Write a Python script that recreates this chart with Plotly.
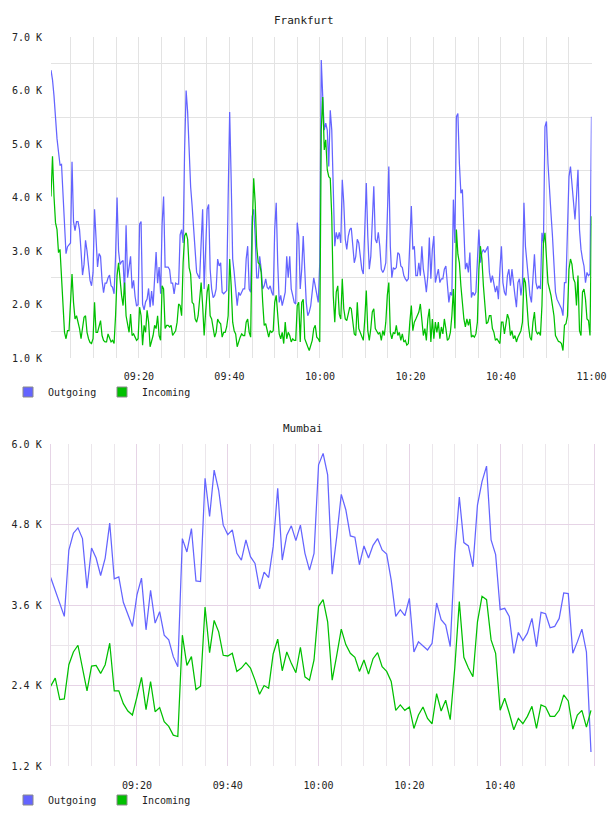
import pandas as pd
import plotly.graph_objects as go

DAY = "2024-01-01 "

# ---------------- data (values in thousands) ----------------
fra_out = [
    6.38, 6.2, 5.9, 5.4, 5.1, 4.85, 4.61, 4.62, 4.0, 3.3,
    2.95, 3.08, 3.12, 3.15, 4.67, 3.55, 3.38, 3.55, 3.55, 3.4,
    3.0, 2.55, 2.75, 3.2, 3.0, 2.7, 2.45, 2.35, 2.6, 3.78,
    3.1, 2.7, 2.95, 2.9, 2.45, 2.22, 2.4, 2.4, 2.5, 2.55,
    2.35, 2.32, 2.2, 2.9, 4.0, 3.0, 2.75, 2.8, 2.82, 2.2,
    3.48, 2.5, 2.7, 2.9, 2.3, 2.45, 2.15, 1.97, 2.0, 3.5,
    3.55, 2.0, 1.9, 2.05, 2.1, 2.3, 1.95, 2.25, 1.98, 2.4,
    2.98, 2.4, 2.7, 2.2, 3.5, 4.02, 2.7, 2.7, 2.7, 2.65,
    2.4, 2.4, 2.2, 2.4, 2.38, 2.38, 3.3, 3.4, 3.15, 4.9,
    6.0,
    5.6, 4.77, 4.2, 3.84, 3.35, 2.9, 2.6, 2.54, 2.48, 3.15,
    3.78, 2.29, 3.09, 3.78, 3.87, 2.66, 2.29, 2.13, 2.17, 2.29,
    2.85, 2.72, 2.78, 2.23, 2.2, 2.23, 2.26, 4.0, 5.6, 4.33,
    2.85, 2.6, 2.29, 1.98, 2.23, 2.17, 2.23, 2.29, 2.29, 2.85,
    3.09, 2.29, 2.23, 3.65, 3.78, 3.28, 2.5, 2.5, 2.9, 2.66,
    2.29, 2.35, 2.48, 2.32, 2.29, 2.35, 2.23, 2.17, 3.4, 3.9,
    2.78, 2.04, 2.17, 1.98, 2.1, 2.23, 2.9, 2.5, 2.9, 2.29,
    2.17, 2.04, 2.01, 3.53, 3.28, 2.29, 2.66, 3.28, 2.66, 2.04,
    1.79, 1.86, 1.98, 2.23, 2.5, 2.35, 2.17, 2.04, 2.78, 6.57,
    5.88, 5.26,
    5.39, 5.26, 4.58, 5.63, 5.26, 4.15, 3.09, 3.35, 3.22, 3.35,
    3.15, 4.33, 3.9, 3.22, 3.03, 3.28, 3.4, 3.43, 3.09, 2.78,
    2.9, 3.22, 3.15, 2.9, 2.66, 2.57, 3.4, 4.27, 3.28, 2.66,
    2.9, 3.65, 4.21, 3.22, 3.15, 3.35, 3.09, 2.66, 2.6, 2.66,
    2.78, 3.65, 4.58, 3.09, 2.5, 2.69, 2.66, 2.69, 2.97, 2.94,
    2.72, 2.69, 2.54, 2.48, 2.44, 2.48, 3.28, 3.84, 3.03, 3.09,
    2.54, 2.54, 2.78, 2.54, 3.09, 2.66, 2.48, 2.23, 2.54, 3.25,
    2.48, 3.03, 3.28, 2.41, 2.54, 2.66, 2.41, 2.48, 2.48, 2.66,
    2.72, 2.29, 2.04, 2.23, 2.17, 3.96, 3.15, 5.51, 5.57, 4.64,
    4.08, 4.15,
    3.4, 2.66, 2.78, 2.6, 2.97, 2.13, 2.23, 2.17, 2.23, 2.78,
    3.4, 2.78, 2.97, 3.03, 2.97, 3.03, 3.09, 2.6, 2.41, 2.54,
    2.35, 2.23, 2.35, 2.1, 2.66, 3.09, 2.41, 2.23, 2.17, 2.54,
    2.66, 2.35, 2.66, 2.35, 2.17, 1.95, 2.41, 2.48, 2.17, 2.41,
    3.9, 3.09, 2.78, 2.41, 2.17, 2.04, 2.54, 2.94, 2.41, 2.29,
    2.35, 2.29, 3.34, 3.15, 5.32, 5.42, 4.64, 4.02, 3.71, 3.28,
    2.78, 2.23, 2.1, 2.04, 2.01, 1.92, 1.79, 2.41, 2.41, 3.65,
    4.39, 4.58, 4.21, 3.84, 3.59, 4.02, 4.52, 3.4, 3.03, 2.85,
    2.72, 2.41, 2.6, 2.54, 2.57, 5.51,
]

fra_in = [
    4.02, 4.77, 4.02, 3.53, 3.4, 2.97, 3.03, 2.41, 1.79, 1.48,
    1.36, 1.51, 1.51, 1.98, 2.57, 2.04, 1.73, 1.79, 1.67, 1.55,
    1.36, 1.55, 1.76, 1.79, 1.48, 1.36, 1.29, 1.27, 1.36, 2.04,
    1.48, 1.48, 1.58, 1.7, 1.42, 1.33, 1.3, 1.3, 1.45, 1.39,
    1.3, 1.33, 1.27, 1.79, 2.54, 2.78, 2.41, 2.17, 1.98, 2.41,
    1.79, 1.61, 1.48, 1.82, 1.42, 1.45, 1.39, 1.33, 1.36, 1.95,
    1.79, 1.24, 1.61, 1.48, 1.89, 1.67, 1.21, 1.33, 1.42, 1.61,
    1.55, 1.79, 1.42, 1.33, 2.35, 2.29, 1.55, 1.61, 1.61, 1.58,
    1.61, 1.42, 1.48, 1.51, 1.67, 2.01, 1.98, 1.79, 2.78, 3.28,
    3.34,
    3.22, 2.69, 2.57, 2.04, 2.01, 1.73, 1.67, 1.79, 2.17, 2.41,
    1.98, 1.42, 1.86, 2.23, 2.38, 1.79, 1.73, 1.55, 1.39, 1.48,
    1.73, 1.67, 1.64, 1.39, 1.48, 1.48, 1.58, 1.79, 2.85, 2.35,
    1.67, 1.51, 1.45, 1.21, 1.33, 1.39, 1.45, 1.42, 1.42, 1.67,
    1.73, 1.48, 1.39, 3.4, 4.36, 3.9, 3.09, 2.78, 2.75, 2.6,
    2.04, 1.61, 1.64, 1.48, 1.39, 1.51, 1.48, 1.51, 2.04, 2.17,
    1.79, 1.45, 1.36, 1.48, 1.27, 1.67, 1.36, 1.48, 1.42, 1.3,
    1.36, 1.33, 1.33, 1.98, 2.04, 1.3, 2.04, 2.1, 1.36, 1.27,
    1.21, 1.14, 1.24, 1.33, 1.55, 1.61, 1.39, 1.36, 1.3, 5.26,
    5.88, 4.89,
    5.08, 4.52, 4.39, 4.36, 3.65, 2.17, 1.67, 2.23, 2.35, 1.82,
    1.73, 2.48, 1.92, 1.73, 1.7, 1.86, 1.95, 1.92, 1.67, 1.45,
    1.42, 2.04, 1.55, 1.48, 1.39, 1.33, 1.73, 2.26, 1.51, 1.33,
    1.55, 1.86, 1.92, 1.55, 1.5, 1.45, 1.48, 1.33, 1.51, 1.42,
    1.67, 2.17, 2.41, 1.48, 1.36, 1.48, 1.45, 1.61, 1.42, 1.48,
    1.33, 1.45, 1.3, 1.33, 1.24, 1.27, 1.67, 1.98, 1.51, 1.67,
    1.73, 1.79, 1.86, 2.01, 1.73, 1.42, 1.55, 1.33, 1.73, 1.92,
    1.3, 1.73, 1.36, 1.67, 1.48, 1.67, 1.36, 1.58, 1.45, 1.73,
    1.55, 1.33, 1.36, 1.48, 1.79, 2.29, 1.55, 3.4, 2.94, 2.78,
    2.35, 2.04,
    1.73, 1.58, 1.73, 1.61, 1.73, 1.39, 1.42, 1.39, 1.45, 1.67,
    2.66, 3.09, 2.85, 2.35, 1.92, 1.64, 1.67, 1.79, 1.79, 1.55,
    1.48, 1.33, 1.36, 1.3, 1.27, 1.67, 1.67, 1.45, 1.67, 1.82,
    1.73, 1.42, 1.51, 1.36, 1.42, 1.3, 1.39, 1.45, 1.51, 1.67,
    2.5, 2.41, 1.98, 1.61, 1.39, 1.33, 1.67, 1.86, 1.51, 1.45,
    1.48, 1.42, 1.98, 3.15, 3.34, 2.9, 2.41, 2.29, 2.17, 1.98,
    1.79, 1.42, 1.36, 1.31, 1.3, 1.27, 1.14, 1.61, 1.64, 1.79,
    2.66, 2.85, 2.75, 2.48, 2.41, 1.98, 2.54, 1.51, 1.42, 2.23,
    2.29, 2.1, 1.73, 1.7, 1.42, 3.65,
]

mum_out = [
    4.01, 3.82, 3.6, 3.43, 4.42, 4.67, 4.75, 4.59, 3.85, 4.45,
    4.3, 4.04, 4.3, 4.82, 3.99, 4.02, 3.64, 3.45, 3.28, 3.75,
    4.0, 3.23, 3.82, 3.33, 3.5, 3.15, 3.08, 2.83, 2.68, 4.59,
    4.39, 4.74, 3.96, 3.95, 5.49, 4.92, 5.61, 5.31, 4.79, 4.65,
    4.72, 4.37, 4.27, 4.57, 4.32, 4.22, 3.84, 4.09, 4.01, 4.47,
    5.34, 4.27, 4.64, 4.78, 4.56,
    4.79, 4.37, 4.12, 4.37, 5.69, 5.86, 5.54, 4.06, 4.62, 5.25,
    5.02, 4.63, 4.61, 4.2, 4.48, 4.3, 4.49, 4.59, 4.42, 4.36,
    3.97, 3.43, 3.53, 3.44, 3.7, 2.9, 3.05, 2.99, 2.93, 3.03,
    3.63, 3.38, 3.3, 2.98, 4.37, 5.21, 4.53, 4.48, 4.17, 5.09,
    5.44, 5.67, 4.57, 4.35, 3.53, 3.55, 3.43, 2.88, 3.19, 3.07,
    3.18, 3.4, 2.98, 3.49, 3.47, 3.26, 3.28, 3.4, 3.78, 3.77,
    2.88, 3.05, 3.24, 2.9, 1.41,
]

mum_in = [
    2.39, 2.51, 2.19, 2.2, 2.71, 2.9, 3.0, 2.66, 2.32, 2.69,
    2.7, 2.58, 2.71, 3.03, 2.32, 2.32, 2.13, 2.02, 1.96, 2.23,
    2.52, 2.04, 2.46, 2.01, 2.07, 1.86, 1.79, 1.66, 1.64, 3.15,
    2.7, 2.83, 2.34, 2.39, 3.57, 2.89, 3.37, 3.2, 2.85, 2.84,
    2.88, 2.61, 2.66, 2.74, 2.66, 2.48, 2.27, 2.4, 2.36, 2.87,
    3.09, 2.62, 2.9, 2.73, 2.59,
    2.97, 2.53, 2.48, 2.78, 3.58, 3.68, 3.35, 2.48, 2.85, 3.24,
    3.01, 2.88, 2.82, 2.61, 2.78, 2.57, 2.8, 2.89, 2.68, 2.61,
    2.46, 2.03, 2.11, 2.03, 2.08, 1.76, 1.96, 2.08, 1.91, 1.83,
    2.28, 2.02, 2.18, 1.89, 2.66, 3.65, 2.82, 2.66, 2.53, 3.35,
    3.73, 3.68, 3.08, 2.88, 2.03, 2.21, 1.99, 1.74, 1.91, 1.83,
    1.94, 2.09, 1.76, 2.11, 2.08, 1.94, 1.94, 2.03, 2.26, 2.17,
    1.75, 1.96, 2.03, 1.78, 2.03,
]

series_names = ["Outgoing", "Incoming"]
x_tick_labels = ["09:20", "09:40", "10:00", "10:20", "10:40", "11:00"]
fra_y_ticks = [1.0, 2.0, 3.0, 4.0, 5.0, 6.0, 7.0]
mum_y_ticks = [1.2, 2.4, 3.6, 4.8, 6.0]

# ---------------- styling ----------------
W, H = 608, 816
BLUE = "#6464ff"
GREEN = "#00c000"
FONT = "DejaVu Sans Mono"
TXT = "#222222"
FRA_GRID = "#e3e3e3"
MUM_MAJOR = "#e6d4e6"
MUM_MINOR = "#ebe6eb"

fra_time = pd.date_range(DAY + "09:00:35", DAY + "11:00:00", periods=len(fra_out))
mum_time = pd.date_range(DAY + "09:01:00", periods=len(mum_out), freq="1min")

x_tick_vals = [pd.Timestamp(DAY + t) for t in x_tick_labels]
five_min = list(pd.date_range(DAY + "09:05", DAY + "11:00", freq="5min"))
five_min_mum = list(pd.date_range(DAY + "09:05", DAY + "10:55", freq="5min"))


def px_x(a, b):
    return [a / W, b / W]


def px_y(top, bottom):
    return [1 - bottom / H, 1 - top / H]


fig = go.Figure()

line_w = 1.25
fig.add_trace(go.Scatter(x=fra_time, y=fra_out, mode="lines", name=series_names[0],
                         line=dict(color=BLUE, width=line_w), xaxis="x", yaxis="y",
                         showlegend=False, legendgroup="fo"))
fig.add_trace(go.Scatter(x=fra_time, y=fra_in, mode="lines", name=series_names[1],
                         line=dict(color=GREEN, width=line_w), xaxis="x", yaxis="y",
                         showlegend=False, legendgroup="fi"))
fig.add_trace(go.Scatter(x=mum_time, y=mum_out, mode="lines", name=series_names[0],
                         line=dict(color=BLUE, width=line_w), xaxis="x2", yaxis="y2",
                         showlegend=False, legendgroup="mo"))
fig.add_trace(go.Scatter(x=mum_time, y=mum_in, mode="lines", name=series_names[1],
                         line=dict(color=GREEN, width=line_w), xaxis="x2", yaxis="y2",
                         showlegend=False, legendgroup="mi"))

# legend swatches (square)
for leg, grp, xa, ya in [("legend", "f", "x", "y"), ("legend2", "m", "x2", "y2")]:
    for name, col, g in [(series_names[0], BLUE, grp + "o"), (series_names[1], GREEN, grp + "i")]:
        fig.add_trace(go.Scatter(x=[None], y=[None], mode="markers", name=name,
                                 marker=dict(symbol="square", size=10, color=col,
                                             line=dict(color="#8a8a8a", width=1)),
                                 xaxis=xa, yaxis=ya, legend=leg, legendgroup=g,
                                 showlegend=True))

tickfont = dict(family=FONT, size=10, color=TXT)
legfont = dict(family=FONT, size=10, color=TXT)

fig.update_layout(
    width=W, height=H, autosize=False,
    margin=dict(l=0, r=0, t=0, b=0),
    template="none",
    paper_bgcolor="white", plot_bgcolor="white",
    font=dict(family=FONT, size=10, color=TXT),
    xaxis=dict(domain=px_x(51, 591.5), anchor="y", type="date",
               range=[DAY + "09:00:35", DAY + "11:00:00"],
               tickmode="array", tickvals=x_tick_vals, ticktext=x_tick_labels,
               ticks="outside", ticklen=9, tickcolor="rgba(0,0,0,0)",
               showgrid=True, gridcolor=FRA_GRID, gridwidth=1,
               minor=dict(tickmode="array", tickvals=five_min, showgrid=True,
                          gridcolor=FRA_GRID, gridwidth=1),
               zeroline=False, showline=False, tickfont=tickfont, automargin=False),
    yaxis=dict(domain=px_y(37, 358), anchor="x", range=[1.0, 7.0],
               tickmode="array", tickvals=fra_y_ticks,
               ticktext=[f"{v:.1f} K" for v in fra_y_ticks],
               ticks="outside", ticklen=6, tickcolor="rgba(0,0,0,0)",
               showgrid=False,
               minor=dict(tickmode="array", tickvals=[v + 0.5 for v in fra_y_ticks[:-1]],
                          showgrid=True, gridcolor=FRA_GRID, gridwidth=1),
               zeroline=False, showline=False, tickfont=tickfont, automargin=False),
    xaxis2=dict(domain=px_x(50.7, 594), anchor="y2", type="date",
                range=[DAY + "09:01:00", DAY + "11:00:40"],
                tickmode="array", tickvals=x_tick_vals[:-1], ticktext=x_tick_labels[:-1],
                ticks="outside", ticklen=10, tickcolor="rgba(0,0,0,0)",
                showgrid=True, gridcolor=MUM_MAJOR, gridwidth=1,
                minor=dict(tickmode="array", tickvals=five_min_mum, showgrid=True,
                           gridcolor=MUM_MINOR, gridwidth=1),
                zeroline=False, showline=False, tickfont=tickfont, automargin=False),
    yaxis2=dict(domain=px_y(444, 766), anchor="x2", range=[1.2, 6.0],
                tickmode="array", tickvals=mum_y_ticks,
                ticktext=[f"{v:.1f} K" for v in mum_y_ticks],
                ticks="outside", ticklen=6, tickcolor="rgba(0,0,0,0)",
                showgrid=True, gridcolor=MUM_MAJOR, gridwidth=1,
                minor=dict(tickmode="array", tickvals=[1.8, 3.0, 4.2, 5.4],
                           showgrid=True, gridcolor=MUM_MINOR, gridwidth=1),
                showline=True, mirror=True, linecolor=MUM_MAJOR, linewidth=1,
                zeroline=False, tickfont=tickfont, automargin=False),
    legend=dict(orientation="h", x=8 / W, y=1 - 392 / H, xanchor="left", yanchor="middle",
                font=legfont, bgcolor="rgba(0,0,0,0)",
                itemwidth=30, entrywidth=49, traceorder="normal"),
    legend2=dict(orientation="h", x=8 / W, y=1 - 800 / H, xanchor="left", yanchor="middle",
                 font=legfont, bgcolor="rgba(0,0,0,0)",
                 itemwidth=30, entrywidth=49, traceorder="normal"),
    annotations=[
        dict(text="Frankfurt", x=303.5 / W, y=1 - 20 / H, xref="paper", yref="paper",
             xanchor="center", yanchor="middle", showarrow=False,
             font=dict(family=FONT, size=11, color=TXT)),
        dict(text="Mumbai", x=303 / W, y=1 - 428 / H, xref="paper", yref="paper",
             xanchor="center", yanchor="middle", showarrow=False,
             font=dict(family=FONT, size=11, color=TXT)),
    ],
    showlegend=True,
)

fig.write_html("out.html")
